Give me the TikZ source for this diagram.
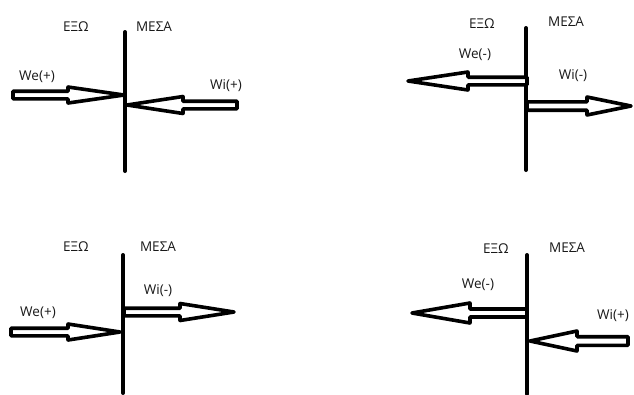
\documentclass[tikz,border=0pt]{standalone}
\usepackage{fontspec}
\setmainfont{Open Sans}
\newcommand\paintarrow[6]{% tail x, base x, tip x, y, shaft half, head half
  \draw[parrow] (#1,#4-#5) -- (#2,#4-#5) -- (#2,#4-#6) -- (#3,#4) -- (#2,#4+#6) -- (#2,#4+#5) -- (#1,#4+#5) -- cycle;}
\begin{document}
\begin{tikzpicture}[x=1pt,y=-1pt,
  parrow/.style={draw=black,fill=white,line width=3.6pt,line join=round,line cap=round},
  wall/.style={line width=4pt,line cap=round},
  lbl/.style={font=\fontsize{13.5}{15}\selectfont,text=black!90,inner sep=0pt}]
\useasboundingbox[fill=white] (0,0) rectangle (634,394);
% walls
\draw[wall] (125,32) -- (125,171);
\draw[wall] (526,28) -- (526,170);
\draw[wall] (123,255) -- (123,393);
\draw[wall] (527,255) -- (527,394);
% Q1
\paintarrow{13}{68}{124}{95}{3.8}{8}
\paintarrow{237}{183}{127}{105}{3.8}{8.5}
\node[lbl] (q1e) at (76,27) {ΕΞΩ};
\node[lbl] (q1m) at (154,27) {ΜΕΣΑ};
\node[lbl] (q1we) at (37,77) {We(+)};
\node[lbl] (q1wi) at (226,86) {Wi(+)};
% Q2
\paintarrow{527}{468}{408}{81}{3.8}{9}
\paintarrow{527}{587}{631}{106}{4.2}{9}
\node[lbl] (q2e) at (482,24) {ΕΞΩ};
\node[lbl] (q2m) at (566,22) {ΜΕΣΑ};
\node[lbl] (q2we) at (475,55) {We(-)};
\node[lbl] (q2wi) at (573,76) {Wi(-)};
% Q3
\paintarrow{124}{180}{234}{312}{3.8}{8.5}
\paintarrow{11}{68}{120}{332}{3.8}{8}
\node[lbl] (q3e) at (76,247) {ΕΞΩ};
\node[lbl] (q3m) at (158,247) {ΜΕΣΑ};
\node[lbl] (q3wi) at (158,291) {Wi(-)};
\node[lbl] (q3we) at (38,313) {We(+)};
% Q4
\paintarrow{527}{470}{412}{313}{4}{10}
\paintarrow{628}{577}{530}{341}{4.3}{10}
\node[lbl] (q4e) at (496,249) {ΕΞΩ};
\node[lbl] (q4m) at (567,248) {ΜΕΣΑ};
\node[lbl] (q4we) at (478,285) {We(-)};
\node[lbl] (q4wi) at (613,316) {Wi(+)};
\end{tikzpicture}
\end{document}
